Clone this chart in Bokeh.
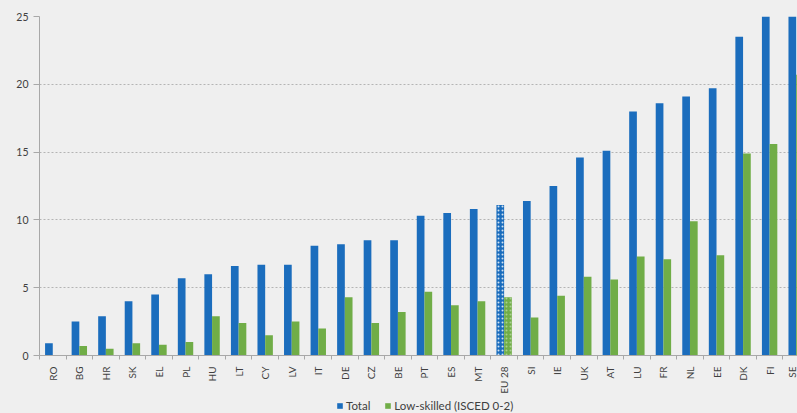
import math
from bokeh.plotting import figure
from bokeh.layouts import column
from bokeh.models import (ColumnDataSource, Range1d, FixedTicker, Legend, LegendItem,
                          GlobalInlineStyleSheet)
from bokeh.transform import dodge
from bokeh.embed import file_html
from bokeh.resources import INLINE

countries = ["RO", "BG", "HR", "SK", "EL", "PL", "HU", "LT", "CY", "LV", "IT", "DE", "CZ", "BE",
             "PT", "ES", "MT", "EU 28", "SI", "IE", "UK", "AT", "LU", "FR", "NL", "EE", "DK", "FI", "SE"]
total = [0.9, 2.5, 2.9, 4.0, 4.5, 5.7, 6.0, 6.6, 6.7, 6.7, 8.1, 8.2, 8.5, 8.5,
         10.3, 10.5, 10.8, 11.1, 11.4, 12.5, 14.6, 15.1, 18.0, 18.6, 19.1, 19.7, 23.5, 25.1, 28.9]
low_skilled = [0.0, 0.7, 0.5, 0.9, 0.8, 1.0, 2.9, 2.4, 1.5, 2.5, 2.0, 4.3, 2.4, 3.2,
               4.7, 3.7, 4.0, 4.3, 2.8, 4.4, 5.8, 5.6, 7.3, 7.1, 9.9, 7.4, 14.9, 15.6, 20.7]
y_ticks = [0, 5, 10, 15, 20, 25]
series_labels = ["Total", "Low-skilled (ISCED 0-2)"]

BG = "#efefef"
BLUE = "#1b6dbd"
GREEN = "#70ad47"
TXT = "#404040"
AXIS = "#a8a8a8"
FONT = "Lato"

idx = list(range(len(countries)))
src = ColumnDataSource(dict(
    idx=idx, country=countries, total=total, low=low_skilled,
    hatch=["dot" if c == "EU 28" else "blank" for c in countries],
))

p = figure(width=797, height=397, output_backend="svg", toolbar_location=None,
           x_range=Range1d(-0.5, 28.05), y_range=Range1d(0, 25),
           background_fill_color=BG, border_fill_color=BG,
           min_border_left=39, min_border_right=0, min_border_top=16, min_border_bottom=42)
p.outline_line_color = None

p.vbar(x=dodge("idx", -0.145), top="total", width=0.29, source=src,
       fill_color=BLUE, line_color=None,
       hatch_pattern="hatch", hatch_color="white", hatch_scale=4, hatch_weight=1, hatch_alpha=0.8)
p.vbar(x=dodge("idx", 0.145), top="low", width=0.29, source=src,
       fill_color=GREEN, line_color=None,
       hatch_pattern="hatch", hatch_color="white", hatch_scale=4, hatch_weight=1, hatch_alpha=0.4)

# x axis
p.xaxis.ticker = FixedTicker(ticks=idx, minor_ticks=[i - 0.5 for i in range(len(countries) + 1)])
p.xaxis.major_label_overrides = {i: c for i, c in enumerate(countries)}
p.xaxis.major_label_orientation = math.pi / 2
p.xaxis.major_tick_out = 0
p.xaxis.major_tick_in = 0
p.xaxis.minor_tick_out = 4
p.xaxis.minor_tick_in = 0
p.xaxis.minor_tick_line_color = AXIS
p.xaxis.axis_line_color = AXIS
p.xaxis.major_label_standoff = 7
p.xaxis.major_label_text_font = FONT
p.xaxis.major_label_text_font_size = "10px"
p.xaxis.major_label_text_color = TXT

# y axis
p.yaxis.ticker = FixedTicker(ticks=y_ticks)
p.yaxis.major_tick_out = 6
p.yaxis.major_tick_in = 0
p.yaxis.minor_tick_line_color = None
p.yaxis.major_tick_line_color = AXIS
p.yaxis.axis_line_color = AXIS
p.yaxis.major_label_standoff = 5
p.yaxis.major_label_text_font = FONT
p.yaxis.major_label_text_font_size = "10.5px"
p.yaxis.major_label_text_color = TXT

# grid
p.xgrid.grid_line_color = None
p.ygrid.grid_line_color = "#b4b4b4"
p.ygrid.grid_line_dash = "2 2"
p.ygrid.grid_line_width = 1

# legend strip (key renderers drawn outside its visible range)
lg = figure(width=797, height=16, output_backend="svg", toolbar_location=None,
            x_axis_type=None, y_axis_type=None,
            x_range=Range1d(-0.5, 28.05), y_range=Range1d(1000, 1001),
            background_fill_color=BG, border_fill_color=BG,
            min_border_left=0, min_border_right=0, min_border_top=0, min_border_bottom=0)
lg.outline_line_color = None
lg.xgrid.grid_line_color = None
lg.ygrid.grid_line_color = None
k1 = lg.vbar(x="idx", top="total", width=0.29, source=src, fill_color=BLUE, line_color=None)
k2 = lg.vbar(x="idx", top="low", width=0.29, source=src, fill_color=GREEN, line_color=None)
legend = Legend(items=[LegendItem(label=series_labels[0], renderers=[k1]),
                       LegendItem(label=series_labels[1], renderers=[k2])],
                orientation="horizontal", location=(297, 1))
legend.background_fill_alpha = 0
legend.border_line_color = None
legend.label_text_font = FONT
legend.label_text_font_size = "11.5px"
legend.label_text_color = TXT
legend.glyph_width = 7
legend.glyph_height = 7
legend.label_standoff = 3
legend.spacing = 14
legend.padding = 0
legend.margin = 0
legend.label_height = 10
lg.add_layout(legend, "center")

layout = column(p, lg, spacing=0)
layout.stylesheets = [GlobalInlineStyleSheet(css=f"body {{ background-color: {BG}; }}")]

open("out.html", "w").write(file_html(layout, INLINE))
